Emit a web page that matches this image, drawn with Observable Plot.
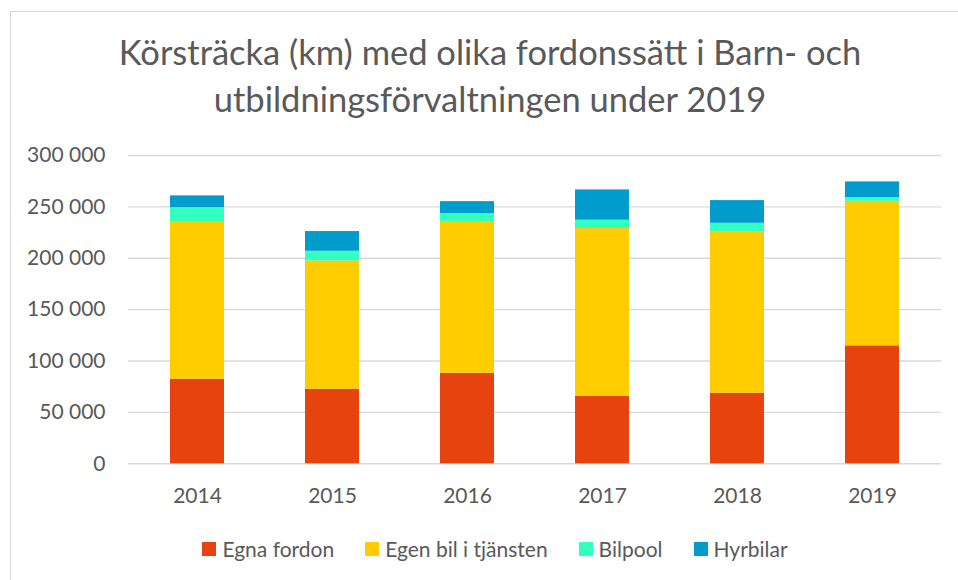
<!DOCTYPE html>
<html>
<head>
<meta charset="utf-8">
<script src="https://cdn.jsdelivr.net/npm/d3@7"></script>
<script src="https://cdn.jsdelivr.net/npm/@observablehq/plot@0.6"></script>
<style>
  html, body { margin: 0; padding: 0; background: #fff; }
  #wrap { position: relative; width: 958px; height: 580px; overflow: hidden; font-family: Lato, "Open Sans", sans-serif; color: #595959; }
  #frame { position: absolute; left: 10px; top: 11px; width: 1000px; height: 700px; border: 1.5px solid #d9d9d9; box-sizing: border-box; }
  #title { position: absolute; left: 0; top: 28px; width: 980px; text-align: center; font-size: 34.5px; line-height: 47px; }
  #chart { position: absolute; left: 0; top: 0; }
  #legend { position: absolute; left: 0; top: 536px; width: 990px; display: flex; justify-content: center; gap: 31px; font-size: 21px; line-height: 26px; }
  .item { display: flex; align-items: center; gap: 6px; }
  .sw { width: 14px; height: 14px; display: inline-block; }
</style>
</head>
<body>
<div id="wrap">
  <div id="frame"></div>
  <div id="chart"></div>
  <div id="title">Körsträcka (km) med olika fordonssätt i Barn- och<br>utbildningsförvaltningen under 2019</div>
  <div id="legend"></div>
</div>
<script>
const years = ["2014", "2015", "2016", "2017", "2018", "2019"];
const series = ["Egna fordon", "Egen bil i tjänsten", "Bilpool", "Hyrbilar"];
const egnaFordon = [82300, 72600, 88100, 65800, 68700, 114800];
const egenBil = [152700, 124800, 147600, 163100, 157300, 140600];
const bilpool = [14300, 9400, 7800, 8100, 8000, 3600];
const hyrbilar = [11400, 19200, 11600, 29500, 22100, 15300];
const yTicks = [0, 50000, 100000, 150000, 200000, 250000, 300000];
const colors = ["#E6430F", "#FFCC00", "#33FFBE", "#009DCC"];

const seriesValues = [egnaFordon, egenBil, bilpool, hyrbilar];
const data = [];
series.forEach((s, i) => {
  years.forEach((y, j) => data.push({ year: y, series: s, value: seriesValues[i][j] }));
});

const fmt = d => d3.format(",")(d).replace(/,/g, " ");

const chart = Plot.plot({
  width: 958,
  height: 580,
  marginTop: 155,
  marginBottom: 116.7,
  marginLeft: 128,
  marginRight: 17,
  style: { fontFamily: "Lato, 'Open Sans', sans-serif", fontSize: "21px", color: "#595959", background: "transparent" },
  x: { domain: years, paddingInner: 0.6, paddingOuter: 0.3, label: null },
  y: { domain: [0, 300000], label: null },
  color: { domain: series, range: colors },
  marks: [
    Plot.ruleY(yTicks, { stroke: "#d9d9d9", strokeWidth: 1.4 }),
    Plot.barY(data, { x: "year", y: "value", fill: "series", order: series }),
    Plot.axisY(yTicks, { tickSize: 0, tickPadding: 23, tickFormat: fmt, label: null, fill: "#595959" }),
    Plot.axisX({ tickSize: 0, tickPadding: 24, label: null, fill: "#595959" })
  ]
});
document.getElementById("chart").appendChild(chart);

const legend = document.getElementById("legend");
series.forEach((s, i) => {
  const item = document.createElement("div");
  item.className = "item";
  const sw = document.createElement("span");
  sw.className = "sw";
  sw.style.background = colors[i];
  const t = document.createElement("span");
  t.textContent = s;
  item.appendChild(sw);
  item.appendChild(t);
  legend.appendChild(item);
});
</script>
</body>
</html>
